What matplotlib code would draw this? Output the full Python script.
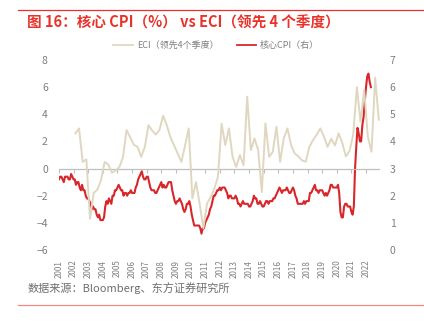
import numpy as np
import matplotlib
matplotlib.use("Agg")
import matplotlib.pyplot as plt
from matplotlib.lines import Line2D

plt.rcParams['font.family'] = ['Noto Sans CJK SC', 'DejaVu Sans']

# core CPI yoy, monthly, Jan 2001 - May 2022 (right axis)
core_cpi = [
    2.6, 2.7, 2.7, 2.6, 2.5, 2.7, 2.7, 2.7, 2.6, 2.6, 2.8, 2.7,
    2.6, 2.6, 2.4, 2.5, 2.5, 2.3, 2.2, 2.4, 2.2, 2.2, 2.0, 1.9,
    1.9, 1.8, 1.7, 1.5, 1.6, 1.5, 1.5, 1.3, 1.2, 1.3, 1.1, 1.1,
    1.1, 1.2, 1.6, 1.8, 1.7, 1.9, 1.8, 1.7, 2.0, 2.0, 2.2, 2.2,
    2.3, 2.4, 2.3, 2.2, 2.2, 2.0, 2.1, 2.1, 2.0, 2.1, 2.1, 2.2,
    2.1, 2.1, 2.1, 2.3, 2.4, 2.6, 2.7, 2.8, 2.9, 2.7, 2.6, 2.6,
    2.7, 2.7, 2.5, 2.3, 2.2, 2.2, 2.2, 2.1, 2.1, 2.2, 2.3, 2.4,
    2.5, 2.3, 2.4, 2.3, 2.3, 2.4, 2.5, 2.5, 2.5, 2.2, 2.0, 1.8,
    1.7, 1.8, 1.8, 1.9, 1.8, 1.7, 1.5, 1.4, 1.5, 1.7, 1.7, 1.8,
    1.6, 1.3, 1.1, 0.9, 0.9, 0.9, 0.9, 0.9, 0.8, 0.6, 0.8, 0.8,
    1.0, 1.1, 1.2, 1.3, 1.5, 1.6, 1.8, 2.0, 2.0, 2.1, 2.2, 2.2,
    2.3, 2.2, 2.3, 2.3, 2.3, 2.2, 2.1, 1.9, 2.0, 2.0, 1.9, 1.9,
    1.9, 2.0, 1.9, 1.7, 1.7, 1.6, 1.7, 1.8, 1.7, 1.7, 1.7, 1.7,
    1.6, 1.6, 1.7, 1.8, 2.0, 1.9, 1.9, 1.7, 1.7, 1.8, 1.7, 1.6,
    1.6, 1.7, 1.8, 1.8, 1.7, 1.8, 1.8, 1.8, 1.9, 1.9, 2.0, 2.1,
    2.2, 2.3, 2.2, 2.1, 2.2, 2.2, 2.2, 2.3, 2.2, 2.1, 2.1, 2.2,
    2.3, 2.2, 2.0, 1.9, 1.7, 1.7, 1.7, 1.7, 1.7, 1.8, 1.7, 1.8,
    1.8, 1.8, 2.1, 2.1, 2.2, 2.3, 2.4, 2.2, 2.2, 2.1, 2.2, 2.2,
    2.2, 2.1, 2.0, 2.1, 2.0, 2.1, 2.2, 2.4, 2.4, 2.3, 2.3, 2.3,
    2.3, 2.4, 2.1, 1.4, 1.2, 1.2, 1.6, 1.7, 1.7, 1.6, 1.6, 1.6,
    1.4, 1.3, 1.6, 3.0, 3.8, 4.5, 4.3, 4.0, 4.0, 4.6, 4.9, 5.5,
    6.0, 6.4, 6.5, 6.2, 6.0,
]

# ECI, led by 4 quarters, quarterly from 2002Q1 (left axis)
eci = [
    2.6, 2.96, 0.49, 0.67, -3.7, -1.8, -1.55, -0.87,
    0.49, 0.3, -0.3, -0.15, 0.1, 0.8, 2.84, 2.3,
    1.75, 1.6, 0.86, 1.6, 3.2, 2.8, 2.5, 2.84,
    3.9, 3.2, 2.3, 1.7, 1.1, 0.49, 1.7, 2.96,
    -2.2, -1.0, -2.6, -4.4, -2.6, -2.1, -1.5, -0.6,
    3.3, 1.73, 2.96, 0.86, 0.12, 0.99, 0.24, 5.3,
    1.36, 2.22, 1.36, -1.73, 3.33, 0.86, 1.23, 3.08,
    0.49, 2.22, 2.96, 1.73, 1.11, 0.9, 0.6, 0.5,
    1.6, 2.1, 2.5, 2.96, 2.35, 1.6, 2.2, 1.7,
    2.6, 1.9, 0.9, 1.3, 2.5, 6.0, 3.45, 5.8,
    2.35, 1.23, 6.7, 3.6,
]

years = list(range(2001, 2023))

t_cpi = 2001 + np.arange(len(core_cpi)) / 12
t_eci = 2002.125 + np.arange(len(eci)) * 0.25

red = '#d9262b'
beige = '#e0d7c1'
grey = '#7f7f7f'

fig = plt.figure(figsize=(4.24, 3.28), dpi=100)
ax = fig.add_axes([0.139, 0.238, 0.757, 0.579])
ax2 = ax.twinx()

ax.plot(t_eci, eci, color=beige, lw=1.4, zorder=2)
ax2.plot(t_cpi, core_cpi, color=red, lw=1.5, zorder=3)
ax.axhline(0, color='#bfbfbf', lw=0.9, zorder=1)

ax.set_xlim(2001, 2022.95)
ax.set_ylim(-6, 8)
ax2.set_ylim(0, 7)
ax.set_yticks(range(-6, 9, 2))
ax2.set_yticks(range(0, 8))

for a in (ax, ax2):
    for s in a.spines.values():
        s.set_visible(False)
ax.set_zorder(ax2.get_zorder() + 1)
ax.patch.set_visible(False)

ax.set_xticks(years)
ax.set_xticklabels([str(y) for y in years], rotation=90, fontsize=5.8, color=grey)
ax.tick_params(axis='x', length=0, pad=7)
ax.tick_params(axis='y', length=0, labelsize=7.5, labelcolor=grey, pad=8)
ax2.tick_params(axis='y', length=0, labelsize=7.5, labelcolor=grey, pad=7)

# tick marks on the zero line
sec = ax.secondary_xaxis(6 / 14)
sec.set_xticks(years)
sec.set_xticklabels([])
sec.tick_params(axis='x', length=3, width=0.8, color='#bfbfbf', direction='out')
sec.spines['bottom'].set_visible(False)

handles = [Line2D([], [], color=beige, lw=1.3), Line2D([], [], color=red, lw=1.3)]
fig.legend(handles, ['ECI（领先4个季度）', '核心CPI（右）'], loc='center',
           bbox_to_anchor=(0.51, 0.862), ncol=2, frameon=False, fontsize=6.5,
           labelcolor=grey, handlelength=2.2, columnspacing=2.0, handletextpad=0.4)

fig.text(0.064, 0.932, '图 16：核心 CPI（%） vs ECI（领先 4 个季度）', color='#e8332b',
         fontsize=10.5, fontweight='bold', va='center', ha='left')
fig.text(0.064, 0.122, '数据来源：Bloomberg、东方证券研究所', color='#6e6e6e',
         fontsize=8, va='center', ha='left')

fig.add_artist(Line2D([0.042, 1.0], [0.97, 0.97], color='#e8332b', lw=0.9))
fig.add_artist(Line2D([0.042, 1.0], [0.07, 0.07], color='#f08a80', lw=0.9))

fig.savefig('out.png', dpi=100)
